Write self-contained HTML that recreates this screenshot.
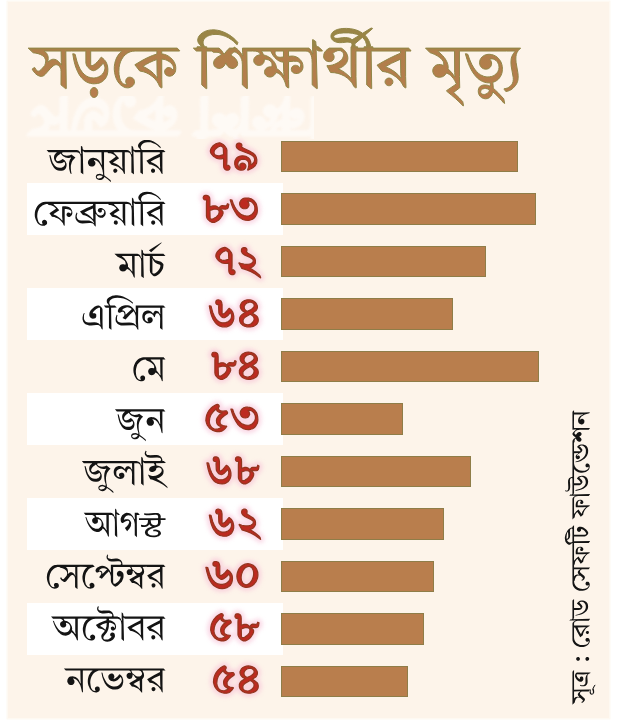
<!DOCTYPE html>
<html lang="bn"><head><meta charset="utf-8"><title>সড়কে শিক্ষার্থীর মৃত্যু</title>
<style>
html,body{margin:0;padding:0;background:#fff;font-family:"Liberation Sans",sans-serif;}
#c{position:relative;width:618px;height:728px;overflow:hidden;background:#fff;}
#bg{position:absolute;left:7.5px;top:2px;width:601.5px;height:715.5px;background:#fdf4ea;box-shadow:0 0 0 1.5px #fef9f2;}
.st{position:absolute;left:26.5px;width:256px;height:52px;background:#fff;}
.bar{position:absolute;left:281px;height:31.5px;background:#b97e4d;box-sizing:border-box;border:1px solid #8f7d48;}
svg{position:absolute;left:0;top:0;}
.t{fill:url(#tg);stroke:#918647;stroke-width:1.0;stroke-linejoin:round;}
.g{fill:#fff;stroke:#fff;stroke-width:3.2;stroke-linejoin:round;opacity:0.55;}
.h{fill:#f7bfd6;stroke:#f7bfd6;stroke-width:7;stroke-linejoin:round;opacity:0.6;}
.l{fill:#141414;}
.n{fill:#bd2a20;stroke:#93351f;stroke-width:1.2;stroke-linejoin:round;}
.s{fill:#141414;}
</style></head><body><div id="c"><div id="bg"></div>

<div class="st" style="top:183.1px"></div>
<div class="st" style="top:288.0px"></div>
<div class="st" style="top:393.0px"></div>
<div class="st" style="top:497.9px"></div>
<div class="st" style="top:602.8px"></div>
<div class="bar" style="top:140.8px;width:237.0px"></div>
<div class="bar" style="top:193.3px;width:254.6px"></div>
<div class="bar" style="top:245.8px;width:205.0px"></div>
<div class="bar" style="top:298.3px;width:172.0px"></div>
<div class="bar" style="top:350.7px;width:258.0px"></div>
<div class="bar" style="top:403.2px;width:122.0px"></div>
<div class="bar" style="top:455.7px;width:190.0px"></div>
<div class="bar" style="top:508.1px;width:162.7px"></div>
<div class="bar" style="top:560.6px;width:153.0px"></div>
<div class="bar" style="top:613.1px;width:143.0px"></div>
<div class="bar" style="top:665.6px;width:127.0px"></div>
<svg width="618" height="728" viewBox="0 0 618 728" role="img" aria-label="সড়কে শিক্ষার্থীর মৃত্যু">
<defs><g id="ti">
<path class="" vector-effect="non-scaling-stroke" transform="translate(30.40 85.49) scale(0.3102 0.3120)" d="M216.2-6.3l4.8-1.2l4.4-1.6l6.3-3.4l3.9-3.1l3.5-3.4l4.3-6l2.3-4.3l1.6-4.3l2.1-9.3l0.4-10l-1.2-9.7l-2.9-8.8l-2.1-4.1l-2.6-3.9l-3-3.5l-3.4-3.3l-6-4.4l-1 0.2l-5.8 7.9l-4.7 5.4l-7.4 7.1l-7.3 5.1l-3.2 1.2l-2.9-0.2l-1.1-1l-0.6-1.7l-0.2-2.4l0-41.4l99.6 0l0.2 0.6l-6.6 6.5l-5.6 7.3l-4.4 8l-3.4 8.6l-2.3 9l-1.3 9.3l-0.2 8.8l0.9 10l2 9.8l3.1 9.3l4.2 8.5l5.6 8.2l5.2 5.1l5.8 4.1l4.3 2.2l4.4 1.8l7.2 0.9l4.4-0.4l4.1-1.2l5.7-3l3.4-2.7l2.6-3.3l1.6-3.9l0.6-4.3l-0.2-2.4l-0.4-2.3l-1.6-3.8l-1.2-1.6l-3.1-2.6l-3.5-1.7l-3.8-0.9l-4.1 0.1l-2.1 0.5l-1.9 0.8l-3.1 2.6l-2.1 3.4l-1 3.7l0.2 5.4l1.3 3.3l2 3.3l-2.4 0.4l-2.1-0.1l-5.7-1.7l-3.4-2.3l-3-3.2l-3.7-6l-2.7-7.6l-2.2-11.4l-0.5-10.1l0.7-12.1l1.4-8.2l3.1-10l4.2-8.8l5.1-7.5l6.4-6.8l7.4-5.3l8.1-3.8l6.7-1.7l9.2-0.8l70.3 0l0 9.6l-14.4 4.7l-17 7.4l-16.9 8.8l-22.8 13.5l15.6 19.8l13.2 2.9l9 3.4l5.6 2.8l5.3 3.1l9.5 7l6.1 5.8l6.9 8.3l5.2 8.3l3.4 8.2l5.5 4.2l2.2 0l-0.7-26.8l-0.1-65.2l7.6 1l4.8 1.3l4.6 1.8l6.9 3.9l4.1 3l5 5.1l2.8 4.2l1.7 4.1l0.4 2l0 3.9l-1.9 5.3l-1.9-3.2l-2.5-2.4l-3.3-1.8l-3.7-1.1l-3.9 0.1l-3.8 1.1l-3.5 2.3l-1.4 1.6l-2 3.7l-0.5 2.3l-0.1 4.5l1.1 3.8l0.9 1.7l1.2 1.5l3.1 2.5l5.3 2.2l5.9 0.3l5.8-1.6l3.6-2.2l3.3-3l3.6-5.9l1.4-4.4l0.7-7.8l-0.5-7l-1.6-6.6l-2.7-6.1l-4.9-7.4l-6.3-6.5l-5.3-4.1l-3.7-2.4l-6.3-3l-4.6-1.6l-4.7-1.1l-4.7-0.6l0-9.2l57.6 0l0-1.6l-7.7-7.8l-480.5 0l16.2 15l8.3 1.1l7.6 1.7l7.2 2.5l6.6 3.5l3.7 2.9l3 3.2l2.9 5.7l0.9 4.4l0 4.3l-0.7 4.1l-2.2 7.4l-11.5 12.8l-3.9 3.3l-1.8 1.1l-3.4 0.8l-2.7-0.6l-1.5-0.9l-4-3.8l-3.3-6.1l-1.7 0l-6.9 4.8l4 6.6l4.5 5.7l3.3 3.2l4 3.2l6.8 3.5l2.2 0.7l4.6 0.5l3.9-0.5l1.7-0.6l2.9-1.7l4.5-3.9l16.9-19l8.3-7.8l4-2.5l3.8-1.2l3.5-0.1l3.5 1.2l3.3 2l2.7 2.7l3 5.2l1.2 4l0.6 7.2l-0.2 42.2l14.7 12l2.4 0l-1.5-120.4l17.2 0l0-0.4l0.4 0.4l47 0l0.1 38.4l1.7 6.4l2.3 4.1l3 3.8l5 4.9l6.3 4l4 1.2l1.9 0.2l3.5-0.5l6.1-2.8l6.6-4.7l7.4-6.9l7.2-8.5l2.9 3l1.1 1.7l1.5 4.1l0.7 4.1l0 4.2l-0.7 4.1l-1.5 4.1l-2.1 4.2l-3.9 5.1l-3.2 3.1l-3.7 2.7l-6 3.2l-6.5 2l-4.7 0.8l-5.1 0.2l-7.9-0.7l-7.5-2.2l-7.1-3.6l-6.6-5l-6.2-6.5l-5.7-8.1l-2.6-4.7l-4.9-10.7l-4.4-12.4l-5.6-21.9l-5.9-1.8l-1.8 0l3.6 20.8l3.4 13.6l2.6 8.2l5.8 14.3l6.4 11.8l7.2 9.4l7.7 7.3l8.2 5.3l6.9 2.9l4.8 1.3l7.5 1.3l5 0.2zM407.8-83.2l0.6 44.1l0.5 7.6l1 7.3l-0.8 0l-6.9-8.7l-4.6-5.1l-9.4-8.4l-11.7-7.7l-6.9-3.8l-6.8-3.1l-0.2-0.6l10.8-6.3l10.9-5.8l11.7-5.2zM99-110.4l0.5 36.5l1.1 8.7l-0.5 0.2l-5.7-7.9l-4.7-4.7l-6-4.3l-4.5-1.7l-4.6-0.6l-2.3 0.1l-4.4 1.1l-5.5 3.1l-6.2 5.1l-0.7-0.4l1.7-6.7l0.3-4.7l-0.3-4.4l-1-4.3l-1.7-4.3l-2.5-4l-3.4-3.4l-4.3-2.8l0-0.6zM213.8 33.8l2.3-4.2l1.1-4.6l0-5.2l-0.5-2.4l-1.6-4.3l-2.7-3.6l-3.3-2.2l-3.9-0.7l-3.8 0.7l-3.4 2.2l-1.5 1.7l-1.2 1.9l-1.7 4.3l-0.5 2.4l0 5.2l1.2 4.6l1 2.2l2.7 3.7l1.6 1.3l3.6 1.6l4 0l1.9-0.6l1.7-1z"><title>সড়কে</title></path>
<path class="" vector-effect="non-scaling-stroke" transform="translate(195.69 85.49) scale(0.3190 0.3120)" d="M550-110.4l92.2 0l0 6.8l-16.8 7.5l-18.1 9l-19 10.3l-19.7 11.6l15.8 19.8l10.4 1.9l6.5 1.8l6.2 2.3l5.8 2.7l5.5 3.1l9.8 6.8l6.4 5.7l7.2 8.1l5.5 8.2l3.7 8l5.6 4.2l2.2 0l-1.1-36.5l-0.1-81.3l17 0l0-1.6l-7.8-7.8l-111.7 0l0-4.2l-6.7 0l-2.3-10l-1.6-4.6l-2.8-6.5l-5.2-8.7l-6.3-7.6l23.8-20.8l0-0.8l-4.4-1.2l-26.6 16.8l-6.7-4.4l-7.3-3.7l-7.9-2.9l-8.3-2.2l-8.6-1.5l-11.8-0.9l-11.4 0.3l-7.6 0.9l-9.8 2.3l-8.1 3.7l-2.5 1.6l-4.1 3.6l-2.9 3.9l-1.1 2.1l-1.2 4.4l-0.1 2.4l0.1 2.2l1.1 4.2l0.9 1.9l2.6 3.5l3.6 3.1l3.9 2.3l6.8 2.3l7.9 1l9.1-0.2l14.4-1.7l6.3 0.3l5.4 1.5l1.7 1.1l1.2 1.4l0.8 1.8l0.2 2.1l-0.3 2.4l-1.5 4.1l-0.3 0.5l-0.9 0l0.2 75.3l0.4 15.5l1 10.4l-0.6 0.4l-11.1-11.1l-10.1-8.4l-8.6-5.7l-11.4-5.8l0-0.6l7.8-3.1l4.6-2.6l4.2-2.8l3.7-3.3l3.4-3.7l2.9-4.2l2.7-6.8l0.8-4.8l0-4.9l-0.8-4.9l-1.5-4.8l-2.3-4.8l-2.6-4l-3.1-3.6l-3.7-3.3l-6.5-4.2l-37.2 0l-7.1 4.6l-3.6 3.4l-2.9 3.7l-2.3 4l-1.5 4l-0.7 4l0 4.6l1.1 4.4l1 2.1l1.3 1.9l3.2 3.2l1.9 1.3l4.3 1.6l4.9 0.6l4.5-0.5l3.8-1.5l3-2.4l2.5-3.7l0.8-2.1l0.6-4.4l-0.4-3.7l-1.2-3.3l-3-3.6l2.8-3.1l3.1-2.5l3.4-2.1l6.3-2.3l4.2-0.4l4.4 0.5l1.9 0.6l3.2 1.8l2.6 3l1.7 3.8l0.4 2.1l0.1 4.4l-1 4.3l-2 4.2l-2.6 3.7l-3 3.3l-7.4 6l-4.3 2.6l-6.8 3.3l-7.4 2.5l-4.9 1.2l-7.3 0.8l-4.8-0.1l-0.8 0.8l11.6 21.6l12 0.7l11 2.1l10.1 3.5l11.1 5.5l9.7 7l8.4 8.2l4.3 5.6l2.7 4.3l3.7 7.9l5.4 4.2l2.2 0l-0.9-36.5l-0.1-81.3l34 0l-0.4 108.4l13.6 12l2.2 0zM500.8-124l-2.4-9.2l24-21l5.2 5.3l2.7 4l2.2 4.2l1.6 4.5l1.2 4.7l0.9 7.5l-8.2 0l0 4.2l-20.5 0l0-4.2zM482.7-151.3l-6.5-1.7l-7.2-0.6l-9.7 0.6l-13.6 1.9l-6.2 0l-3.9-1.1l-2.2-2.4l-0.8-2.2l0.3-1.4l0.8-1.4l1.3-1.3l4.3-2.7l2.9-1.3l4.2-1.4l5-1.1l12.4-1.2l15.9 0l12.8 1.5l12 3l8.3 3.5l-22.6 14.2l-3.5-2.8zM642.2-84.4l0.6 46.5l1.4 13.3l-0.6 0.4l-9.8-11l-9.7-8.6l-12.2-7.9l-7.2-3.8l-9.5-4.1l-0.2-0.6l18.4-10.7zM28.8-124l-3.9-5.7l-1.2-3.2l-0.6-3.1l0.4-6.1l1.6-4.3l1.2-2.1l4.6-5.2l5.9-4.1l7-3.1l9.1-2.2l10.7-0.7l9.6 0.7l9.7 2l9.9 3.4l10 4.8l9.9 6.7l6.5 5.4l9.8 9.8l1.4 0l1.8-7l-6.5-7.2l-7-6.7l-7.4-5.9l-7.9-5.4l-8-4.5l-8.2-3.8l-11-3.8l-8.2-1.9l-10.8-1.2l-8.2 0.2l-7.9 1l-7.2 1.9l-6.9 2.9l-6.3 3.8l-5.3 4.3l-4.5 5.4l-2.5 4.3l-1.5 4.5l-0.5 4.5l0.4 4.4l0.6 2l1.7 3.5l9.7 11.7l-14.6 0l0 4.2l-11.6 0l9.4 9.4l17.4 0l-0.4 108.4l13.6 12l2.2 0l-1.6-120.4l17.8 0l3.8 3.8l12.1 0.2l6.1 0.9l3.1 1.7l3 3.5l1.5 2.3l-11.7 6.4l-3.3 2.5l-3.3 3.1l-4 5.4l-1.8 5.5l-0.3 3.1l0.5 4.6l1.3 3.9l1.1 1.6l2.7 2.9l3.8 2.4l5.8 1.9l5.9-0.3l3.9-1.4l3.9-2.3l4.5-4.4l2.4-4.1l2-4.8l0.8 0l3.5 7.3l2.7 3.6l3 2.7l3.7 2.1l5.6 1.6l4 0l3.9-1l3.7-2.1l3.2-3l1.3-1.7l1.6-3.8l0.6-4.3l-1.1-5.7l-3.1-6.5l-3.8-4.6l-5.7-4.7l-7.7-4.9l2.2-3.6l2.3-2.9l2.7-2.4l2.8-1.3l2.4-0.1l3.2 1.1l3.5 2l3.4 2.6l4.8 5.2l3.8 6.2l2.8 6.9l1.6 6.8l0.7 10.7l-0.2 63.8l13.6 12l2.2 0l-1.6-120.4l18.2 0l0-0.4l0.4 0.4l9.4 0.3l6.7 1.9l3.3 2l1.4 1.5l2.4 3.8l1 2.3l-5.5 0.8l-6.7 2.7l-3.6 2.7l-1.7 1.9l-2.5 3.9l-1.2 4.3l-0.2 2.3l0.6 4.3l1.7 3.7l1.2 1.7l3.3 3l3.8 2l4 1l4.3 0l2-0.4l3.9-1.5l4.8-4l2.1-3.3l1.3-4l0.4-6.1l2.8-0.2l5.1 0.4l6.2 1.8l4.8 3.5l2.9 3.9l1.8 4l0.6 4.2l-0.3 3.2l-1.3 3.2l-6.2-0.1l-6.2 1.6l-1.7 0.9l-3.1 2.5l-1.5 1.7l-2.1 3.7l-1.1 4l0 4.4l1.2 4.1l2.4 3.6l3.5 3l3.8 2.1l4.1 1l4.3 0l4.3-1.2l2.1-1.1l3.7-2.6l2.9-3.3l3.2-6.3l4.7 1.3l4.4 2.2l4.1 2.9l3.5 3.5l5.7 7.7l3.5 6.8l2.6 6.5l2.1 6.7l1.6 7l5.8 4.4l2.4 0l-0.7-26.8l-0.1-56.8l15.3-1.5l9.1 0.2l4.5 0.9l3.5 1.5l3 2.6l1.2 1.7l1.4 4l0 4.4l-1.5 3.7l-1.3 1.5l-2.7-3.5l-3.3-2.3l-3.6-1.3l-3.6-0.5l-3.9 0.5l-3.5 1.6l-3.2 2.6l-1.1 1.7l-0.8 1.9l-0.7 4.5l0.5 4.2l0.7 1.8l2.2 3l3.5 2.6l2.1 0.9l4.3 1.2l6.4-0.3l5.9-2.1l3.6-2.4l3-3.3l2.2-3.7l1.9-6l0.3-4.7l-0.7-6.8l-1.2-4.2l-1.9-4.1l-2.6-4l-3.2-3.8l-5.8-4.9l-6.6-3.5l-7-1.9l-6.4-0.4l-10 1l0-17l54.9 0.1l4.6 0.9l3.7 1.8l1.7 1.2l2.7 3.1l3.1 5.8l1.9 7l1 6.9l0.6 12.6l0 69l13.8 12l2.2 0l-3.6-125.2l0.8-0.4l2.4 2.5l2.8 1.8l3.1 0.8l10.3 0.1l0-1.6l-7.8-7.8l-2.6 0l0-2.6l-1.6-1.6l-4-0.6l-1.3-0.8l-1-1.1l-1.1-2.7l-0.7-3.9l-0.5-7.7l-8.6-6.2l-1.4 0l0.1 33.1l1.1 12.9l-0.6 0.2l-3.2-7.6l-2.3-4.1l-3.9-4.9l-3-2.4l-208 0l0.4 14.6l1.2 10.2l-0.4 0.2l-7.3-10.8l-6.9-8.3l-3.3-3.1l-4.5-3.4l-5.7-2.9l0 3.5l-14 0l-6.8 6.3l-10.3 13.3l-0.6 0l-4-7.3l-4-5.6l-3-3.2l-4.7-3.5l-38.1 0l0-4.2zM275.2-91.4l-10.3 1l-3.8-0.2l-4.4-1.3l-3.7-2.6l-2.7-3.5l-1.3-3.8l-0.1-3.9l0.9-3.3l0.8-1.4l24.6 0zM275.2-74.8l0.6 29.7l1.4 14.5l-0.6 0.2l-5.5-8.2l-4.8-5.6l-7-6.4l-5.7-3.8l-1.1-7.1l-2.3-6.8l-3.5-6.3l-4.4-5.8l-6.9-6.7l-8-5.4l-8.4-3.8l-6.6-1.7l-2.5-6.2l-3.7-6.2l29 0l3.7 8.1l3.7 6.1l4.4 5.8l5.1 5.2l5.6 4.5l6.2 3.4l4.3 1.5zM616-4.4l1.6-3.4l0.5-1.8l0-4l-1.2-3.6l-0.9-1.6l-2.8-2.8l-3.3-1.6l-1.9-0.5l-4 0l-3.7 1.2l-3.1 2.2l-1.3 1.5l-1.7 3.3l-0.5 1.9l0 4l1.2 3.5l2.3 3.2l1.5 1.3l3.4 1.8l1.9 0.4l4 0l3.6-1.1l1.6-1.1z"><title>শিক্ষার্থীর</title></path>
<path class="" vector-effect="non-scaling-stroke" transform="translate(427.79 85.49) scale(0.3094 0.3120)" d="M7.6-104.8l5.7 1.6l9 3.7l8.4 4.5l6.1 4l5.4 4.4l4.6 4.7l3.6 5.7l1.1 3.9l0 3.8l-0.5 1.7l-1.6 2.2l-4.2-1.6l-4.1-0.9l-6.4-0.2l-6.5 1.5l-3.7 1.9l-3 2.8l-3.7 5.6l-1.7 6.2l0.4 6.4l2.4 6.2l4.2 5.3l3.4 2.5l6.4 2.1l7.7 0.3l7.1-1.7l4.1-2.3l5.2-4.5l4-5.4l8.5 5l3.7 2.9l4.9 4.6l4.7 5.6l3.9 5.8l5.8 11.5l-31.9 21.5l0.8 2.3l16 12.8l13 11.1l10.3 9.5l13.1 12.9l1.8 0l-2.6-13.3l-11.5-12.3l-18.1-17.3l19.8-14.8l-0.9-36.5l-0.1-81.3l151.4 0l0-0.4l0.4 0.4l28 0l0.2 0.8l-5.8 7.9l-4.2 7.6l-2.1 6.3l-1.1 7.5l-0.2 8.1l0.7 9.9l6.6 36.8l0.3 6.3l-0.8 7.2l-2.5 6.4l-2.5 3.9l-3.2 3.3l-5.5 4.1l-4.4 2.2l-5.1 1.6l-5.6 0.7l0 2.1l5.4 7l7.4-1.5l4.7-1.7l4.4-2.3l6.3-4.6l7.6-8.1l4.4-6.5l2.9-6.6l1.3-4.8l0.7-5.2l0.2-9.8l-1-9.3l-5.8-33.2l-0.7-10.2l0.2-7.4l1.4-8.2l2.6-6.3l3.8-5.7l7.4-7.7l-307.4 0zM86.4-110.4l0.4 68.6l1.2 13.8l-0.6 0.4l-5.3-7.4l-6.1-7.7l-10.4-10.7l0.3-6.4l-1.1-7l-1.5-4.8l-2.1-5.1l-4.3-7.9l-3.9-5.4l-4.8-5.6l-5.6-5.7l-10.2-8.7l0.2-0.4zM210-10l8-3l4.3-2.5l5.8-4.7l3.3-3.7l2.9-4.1l2.4-4.3l2.5-6.5l1.1-4.6l0.8-7.3l0-5.2l-0.4-5.1l-1.6-7.2l-2.5-6.8l-2.4-4.4l-3-4.2l-3.3-3.8l-3.7-3.4l-4.2-3l-6.8-3.4l-7.2-2.1l-7.8-0.7l-7.2 0.6l-4.4 1.2l-4.2 1.7l-6.2 4.2l-4.8 5.4l-2.2 4.3l-1.3 4.6l-0.5 5l0.8 6.4l2.2 5.2l2.7 3.3l3.2 2.6l3.7 1.8l5.7 1.4l6.3-0.4l4-1.3l1.8-1l3.2-2.7l1.6-1.9l2.3-4l0.7-2.2l0.5-2.3l0-4.1l-0.7-3.7l-1.4-3.6l-3.8-4.7l1.1-0.4l3.8-0.6l3.6 0.1l4.3 0.9l4 1.8l3.5 2.6l3.1 3.1l2.5 3.6l2.8 6.1l1 4.3l0.3 4.5l-0.8 6.7l-2.5 6.3l-2.6 3.9l-3.1 3.6l-5.8 4.6l-4.2 2.3l-4.4 1.7l-7.3 1.4l-5.3 0.3l-4.6-0.3l-4.7-0.7l-4.6-1.3l-9.3-4.2l-6.9-4.8l-6.7-6.4l-4.3-5.2l-4.3-6l-6.2-10.6l-3.9-8.3l-3.9-9.2l-5.4-15.6l-6-1.8l-2 0l5.6 19.1l4 11.4l4.3 10.4l4.5 9.3l4.8 8.2l5 7.3l5.1 6.5l5.4 5.5l5.5 4.6l5.6 3.7l5.8 2.9l5.8 2.2l5.9 1.5l5.9 0.7l7.3-0.1l0.5 6.2l-0.2 5l-6.2-2.5l-3.6-1l-5.8-0.8l-4.3 0l-4.6 0.7l-4.2 1.4l-5.6 3.5l-1.4 1.9l-2.1 4.4l-1.1 5.2l-0.1 2.9l0.1 2.9l1.2 5.4l0.9 2.5l2.8 4.5l1.6 1.9l3.7 3.1l6.5 3.1l7 1l6.7-1l6-3.1l3.5-3.2l1.6-1.9l3.7-7.1l1.7-5.8l7.7 6.5l10.3 9.9l9.7 10.4l8.5 9.9l2 0l-2.8-14.6l-19.1-20.4l-7.9-7.4l-7-6l-0.3-7.6zM192.4 25.1l-4.2 2.3l-4.6 1.2l-4.7 0l-3.8-1.1l-2.7-2.2l-1.4-3.1l0.1-4.3l0.8-2.1l1.4-1.9l3.7-2.6l6-1.7l3.7-0.1l5.2 1l8.1 3.4l-2.5 5.4l-1.5 2.2z"><title>মৃত্যু</title></path>
</g><linearGradient id="tg" gradientUnits="userSpaceOnUse" x1="0" y1="-128" x2="0" y2="60"><stop offset="0" stop-color="#9a8546"/><stop offset="0.1" stop-color="#b07f4b"/><stop offset="1" stop-color="#b87d4d"/></linearGradient>
<filter id="gb"><feGaussianBlur stdDeviation="1.1"/></filter><clipPath id="gc"><rect x="7" y="96" width="307" height="43"/></clipPath><filter id="bl" x="-20%" y="-5%" width="140%" height="110%"><feGaussianBlur stdDeviation="2"/></filter></defs>
<g clip-path="url(#gc)"><use href="#ti" class="g" filter="url(#gb)" transform="translate(0 183.0) scale(1 -1)"/></g>
<use href="#ti" class="t"/>
<path class="l"  transform="translate(48.26 172.86) scale(0.1835 0.1860)" d="M296-8l2 7l1 10l-1 1l-9-3l-7-2l-9 1l-6 2l-5 4l-2 5l-1 4l1 4l2 5l5 5l6 2l6 2l7-1l6-1l6-4l4-4l3-6l1-1l16 11l20 17l-2-10l-17-14l-17-12l-1-7l-1-39l0-78l1-1l17 0l6 5l10 1l9 2l10 5l6 5l5 6l0 1l-20 14l-17 12l14 17l13 3l13 4l11 5l9 7l8 7l6 6l4 7l3 7l5 3l1 0l-1-35l0-82l1 0l15 0l5 1l4 2l4 4l4 6l1 5l2 9l0 13l0 69l13 10l1 0l-3-123l2-2l4 4l4 2l28 0l0 1l0 108l13 10l1 0l-2-119l93 0l1 0l0 8l-35 17l-38 21l15 19l13 2l10 4l11 6l10 6l7 6l7 8l5 9l4 8l5 3l1 0l-1-35l0-82l1 0l16-1l-11-11l-118 0l-4-6l-2-7l1-6l3-7l4-5l9-6l9-3l10-2l9 0l10 1l9 3l11 4l6 3l10 7l7 6l10 9l1-6l-2-2l-11-11l-15-11l-11-6l-13-6l-11-2l-13-1l-14 1l-11 3l-11 7l-4 4l-3 4l-3 4l-1 4l-1 4l1 5l2 5l10 11l-1 2l-29 0l-4-1l-3-2l-1-3l-2-11l-8-6l0 32l2 13l-2 1l-1 0l-5-12l-6-6l-6-3l-8-2l-234 0l-4-2l-2-2l-1-6l-1-7l-8-6l0 32l2 13l-2 1l-1 0l-5-12l-4-5l-6-4l-8-2l-163 0l11 12l44 0l0 2l-7 6l-5 7l-2 6l-1 9l1 7l2 6l4 6l6 6l9 4l9 1l6 0l7-2l6-3l5-4l2 2l2 2l2 6l-1 6l-3 6l-4 4l-3 3l-4 1l-5 2l-9 0l-11-1l-7-3l-9-6l-7-10l-5-8l-4-10l-3-11l-5-18l-6-1l3 17l4 16l5 14l6 11l6 9l6 7l7 5l10 4l11 2l9 0l8-2l6-3l6-5l4-6l2-7l1-8l-1-9l-2-4l-3-6l-5-7l-4-3l-6-4l-11 7l-10 4l-8 1l-4-2l-1-1l-2-3l-1-2l0-4l1-4l3-6l7-8l8-6l7-5l5 7l5 5l6 4l10 5l7 2l7 1l6 0l8-2l2 1l0 1l-6 10l-3 9l-2 10l0 12l1 18l5 19l2 5l5 3l1 0l-3-17l-1-15l0-12l2-8l3-11l4-8l6-7l10-10l-22-17l-8 4l-8 2l-9 1l-7-1l-7-2l-6-3l-6-6l-1-3l0-1l8-3l72 0l8 1l6 3l2 3l4 6l2 7l1 10l0 79l13 10l1 0l-3-124l2-1l5 5l5 1l90 0l0 1l1 44l1 23l-1 1l-1-1l-8-16l-4-6l-5-5l-4-3l-6-4l-11-3l-7-1l-8 1l-4 1l-6 3l-5 5l-4 6l-1 4l-1 7l1 5l3 5l2 4l3 3l4 2l4 1l5 0l5 0l4-1l5-4l3-4l2-6l0-4l-1-5l-3-5l-4-3l0-2l1-1l5 1l9 3l5 4l6 5l4 6l4 6l5 9l4 9l3 11l2 6zM608-85l1 44l1 16l-1 2l-1-1l-10-11l-10-8l-14-9l-14-7l-1-1l0-1l5-3l14-8l29-13zM403-111l0 71l2 16l-2 2l-12-12l-10-8l-12-7l-15-6l0-2l4-3l28-18l-14-16l-16-15l0-2zM288 27l-7 2l-5 1l-4 0l-4-2l-2-2l-1-3l0-3l1-2l4-2l4-2l4-1l9 1l9 3l0 1l-2 4zM580-5l2-3l0-5l-1-4l-3-4l-3-1l-6-1l-3 1l-4 4l-2 3l0 5l1 3l3 5l3 1l6 1l3-1zM373-4l3-4l1-4l-1-3l-3-5l-4-2l-4-1l-3 1l-5 2l-2 5l-1 3l1 5l2 3l3 3l5 1l4-1z"><title>জানুয়ারি</title></path>
<path class="l"  transform="translate(32.90 224.70) scale(0.1817 0.1860)" d="M69-123l-11 1l-9 3l-11 6l-7 6l-8 9l-5 9l-5 12l-2 10l-1 14l1 12l4 12l5 11l5 9l7 7l9 5l9 2l8 1l7-1l5-3l3-2l3-3l2-4l0-7l-1-3l-4-5l-4-3l-6-1l-5 1l-4 3l-3 3l-1 4l1 5l1 3l2 3l0 1l-3 1l-5-1l-4-1l-4-2l-3-4l-4-5l-4-12l-3-14l0-9l1-10l2-9l3-8l3-7l6-8l5-5l8-6l6-3l7-3l9-2l7 0l6 5l12 1l11 4l7 5l10 9l0 1l-20 14l-16 11l14 18l13 2l9 3l11 5l10 7l8 7l5 6l5 7l3 9l5 3l1 0l0-28l0-61l2-1l7 0l14 2l8 4l4 3l1 2l1 5l-1 3l-1 2l-3 3l-1 0l-5-4l-5-1l-6 1l-2 2l-2 3l-1 3l0 3l2 6l4 3l5 2l6 0l4-2l5-4l4-5l2-7l0-8l-1-6l-3-7l-4-6l-4-4l-5-3l-6-3l-7-1l-8-1l-11 0l-7 1l0 54l2 20l-2 1l-12-12l-9-7l-12-7l-14-6l0-2l4-3l27-18l-14-16l-17-15l0-1l0-1l217 0l0 1l0 6l-17 7l-18 7l-37 19l16 19l13 3l10 4l9 5l11 7l6 5l5 6l6 9l1 3l0 1l-2 0l-6-5l-8-5l-10-3l-12-1l-32 1l-10-2l-6-3l-3-3l-3-3l-2-7l-1-5l1-7l3-10l-3-3l-1 0l-2 3l-4 10l-1 9l0 7l2 7l5 8l7 6l6 4l9 3l10 1l37-2l8 0l7 1l6 2l3 3l3 3l3 7l5 3l1 0l-1-33l0-35l2 0l6 9l8 7l9 4l8 1l6-1l4-2l6-5l5-7l1-6l1-4l-1-5l-1-5l-2-4l-4-5l-5-4l-6-3l-6-2l-6 0l-4 1l-3 2l-4 4l-2 6l1 3l2 4l3 2l3 2l4 1l5-1l3-3l2-3l0-3l-2-5l0-1l1 0l5 0l4 2l4 5l1 6l-2 6l-2 4l-3 4l-4 2l-5 2l-6 0l-7-1l-5-2l-3-2l-3-4l-4-5l-3-11l-1-9l0-27l1 0l66 0l1-1l6 6l7 0l7 2l11 4l8 5l8 8l-1 1l-20 14l-17 12l14 17l13 3l10 3l9 3l10 6l9 7l7 8l5 7l4 9l5 3l1 0l-1-35l0-82l1 0l12 0l8 1l5 3l5 5l2 6l2 10l1 10l0 74l13 10l1 0l-3-123l0-1l1-1l5 4l4 2l27 0l1 0l0 109l13 10l1 0l-2-119l94 0l0 7l0 1l-35 17l-38 21l15 19l13 2l10 4l11 6l10 6l7 6l7 8l5 9l4 8l5 3l1 0l-1-35l0-82l1 0l16 0l-11-12l-118 0l-4-6l-2-7l1-6l3-7l4-5l9-6l9-3l10-2l9 0l10 1l9 3l11 4l6 3l10 7l7 6l10 9l1-6l-2-2l-11-11l-15-11l-11-6l-13-6l-11-2l-13-1l-14 1l-11 3l-11 7l-4 4l-3 4l-3 4l-1 4l-1 4l1 5l2 5l10 11l-1 2l-29 0l-4-1l-3-2l-1-3l-2-11l-8-6l0 32l2 13l-2 1l-1 0l-5-12l-6-6l-6-3l-11-2zM699-85l1 44l1 16l-1 2l-1-1l-10-11l-10-8l-14-9l-14-7l-1-1l0-1l5-3l14-8l29-13zM494-111l0 71l2 16l-2 2l-12-12l-10-8l-12-7l-15-6l0-2l4-3l28-18l-14-16l-16-15l0-2zM331-86l1 42l0 14l-1 1l-10-11l-9-8l-14-10l-14-6l0-1l0-1l18-9l28-12zM671-5l2-3l0-5l-1-4l-3-4l-3-1l-6-1l-3 1l-4 4l-2 3l0 5l1 3l3 5l3 1l6 1l3-1zM466-5l1-3l0-5l-1-4l-3-4l-3-1l-5-1l-4 1l-4 4l-1 3l-1 5l1 3l4 5l3 1l5 1l4-1z"><title>ফেব্রুয়ারি</title></path>
<path class="l"  transform="translate(116.08 276.54) scale(0.1835 0.1860)" d="M149-116l1 0l4 3l4 2l25 0l1 0l0 80l2 9l6 8l4 5l4 4l6 3l3 1l3 0l6-2l11-6l7-6l6-7l6-8l4-6l4-9l1-7l1-8l0-6l-4-5l-9-8l-24-7l-7-2l-3-3l-6-5l-2-3l-3-6l-2-6l1 0l70 0l-11-12l-104 0l-4-2l-2-2l-1-6l-1-7l-8-6l0 32l2 13l-2 1l-1 0l-5-12l-4-5l-5-3l-7-2l-9-1l-116 0l17 17l6 2l9 4l8 4l8 6l9 7l3 7l1 4l0 4l-1 3l-1 1l-9-2l-8 0l-4 1l-4 2l-4 4l-3 6l-1 4l0 4l2 6l3 5l5 4l4 2l7 1l5-1l4-1l4-2l5-5l4-5l1 0l11 6l8 8l9 12l4 9l3 9l5 3l1 0l-1-38l0-79l1 0l15 0l7 1l3 3l3 3l4 6l2 7l1 10l0 79l13 10l1 0l-3-123zM202-89l5 8l7 7l5 3l4 2l16 5l2 2l0 4l0 6l-3 7l-3 6l-5 6l-6 7l-7 5l-6 4l-6 1l-3-1l-2-1l-2-3l0-4l0-70l2 0zM87-110l1 66l1 16l-2 1l-12-15l-10-11l0-7l-1-7l-4-9l-4-8l-6-8l-5-6l-13-11l0-2l1 0l54 0zM246-183l-67 42l12 10l58-51z"><title>মার্চ</title></path>
<path class="l"  transform="translate(81.28 328.38) scale(0.1785 0.1860)" d="M231-56l17 8l28-29l17-15l1 0l6 11l4 11l1 6l0 31l1 8l3 8l0 1l-2 0l-6-6l-8-5l-10-3l-14-1l-41 1l-11-1l-7-3l-3-2l-3-3l-4-7l0-5l0-7l1-6l2-7l-3-2l-1 0l-3 5l-3 10l-1 9l1 10l4 8l7 7l8 5l10 3l7 1l8 0l46-2l9 0l6 2l5 2l5 5l3 6l3 7l5 3l1 0l-2-43l1-76l122 0l1 1l0 22l1 11l-2 0l-4-6l-4-6l-5-3l-4-2l-6-1l-6 2l-5 5l-4 8l-1 0l-9-9l-8-5l-8-2l-9 0l-7 2l-4 2l-6 4l-4 5l-2 4l-2 6l-1 6l0 7l2 10l3 6l5 6l5 4l6 4l7 2l8 1l7-1l8-3l3-3l2-3l2-4l0-4l0-4l-2-4l-4-5l-5-2l-6 0l-4 1l-6 3l-2 6l0 5l1 3l3 4l0 2l-1 0l-2 0l-7-2l-3-3l-3-3l-2-4l-1-6l0-6l0-5l2-5l3-3l6-5l6-2l7-1l7 0l6 3l6 4l5 5l3 7l5 2l3-12l3-6l3-2l2-1l4 0l4 1l3 3l4 5l2 4l1 6l1 8l-1 52l13 10l1 0l-1-119l18-1l-12-11l-155 0l0 22l1 13l0 1l-1 0l-1 0l-6-11l-7-9l-7-7l-7-5l-8-4l-10-2l-12 0l-9 2l-12 4l-10 7l-4 3l-4 6l-2 4l-1 4l0 4l1 3l3 3l3 1l5 0l8-4l5-1l5 0l2 1l2 3l2 4l1 4l0 4l-1 4l-3 5zM248-74l-1-10l-3-6l-3-3l-3-2l-4-1l-4-1l-1-1l0-1l5-5l4-3l7-3l7-2l6-1l7 1l6 1l6 3l5 4l0 1l-32 29zM199-112l-11-11l-25 0l-5-8l-1-5l0-4l2-7l3-4l3-3l4-3l7-3l12-4l15-1l17 1l17 4l18 6l17 10l16 12l2-6l-8-7l-9-6l-9-6l-10-5l-20-9l-14-4l-9-2l-10-1l-9 0l-8 1l-11 2l-7 3l-7 3l-6 4l-5 5l-3 4l-2 4l0 4l0 6l2 5l10 12l0 1l-1 1l-28 0l11 12l17 0l1 0l0 109l13 10l1 0l-2-119l1 0zM120 6l-1-42l0-65l-1-5l-2-4l-6-6l-8-5l-4-2l-4 0l-8 2l-12 5l-11 9l-10 10l-6 10l-1 4l-1 6l0 7l2 6l4 5l3 3l6 3l5 1l7-1l6-2l4-4l2-5l0-6l0-4l-4-4l-3-3l-4-1l-8 0l-1-1l1-2l2-3l4-5l5-5l8-6l7-4l6-3l4-1l2 1l2 3l0 4l0 54l1 18l1 12l-1 1l-1 0l-4-4l-5-4l-4-2l-7-2l-12-2l-23 2l-10-1l-8-1l-7-3l-3-3l-3-4l-2-4l-2-4l0-9l0-6l1-7l3-8l-3-2l-1 0l-4 7l-2 8l-2 9l0 10l2 7l2 6l4 6l6 6l6 3l5 2l12 3l12 0l27-2l12 0l6 3l5 4l4 5l4 9l5 3z"><title>এপ্রিল</title></path>
<path class="l"  transform="translate(131.69 380.22) scale(0.1716 0.1860)" d="M69-123l-9 1l-7 2l-9 3l-8 5l-7 7l-6 7l-5 9l-4 9l-3 10l-1 9l0 10l1 10l3 10l4 9l4 8l5 7l5 5l7 4l6 2l8 2l7-1l7-1l5-3l4-4l2-6l0-5l-1-3l-2-4l-3-2l-3-2l-4 0l-4 0l-4 1l-3 2l-3 3l-1 4l0 3l2 5l2 3l0 1l-3 1l-5-1l-4-1l-4-3l-6-6l-2-4l-3-7l-2-12l-1-14l2-13l3-11l4-10l8-9l9-8l8-5l12-4l11-1l6 5l6 2l9 4l14 8l6 5l5 4l2 4l2 5l0 6l-1 3l-1 1l-9-2l-8 0l-4 1l-4 2l-4 4l-3 6l-1 4l0 4l2 6l3 5l5 4l4 2l7 1l5-1l4-1l4-2l5-5l4-5l1 0l11 6l8 8l9 12l4 9l3 9l5 3l1 0l-1-38l0-79l1 0l16-1l-11-11zM166-110l1 66l1 16l-2 1l-12-15l-10-11l0-7l-1-7l-4-9l-4-8l-6-8l-5-6l-13-11l0-2l1 0l54 0z"><title>মে</title></path>
<path class="l"  transform="translate(116.53 432.06) scale(0.1798 0.1860)" d="M240-111l1 1l1 41l1 26l-1 1l-1-1l-8-16l-4-6l-5-5l-4-3l-6-4l-7-2l-6-1l-7-1l-8 2l-4 1l-6 3l-5 6l-2 4l-2 7l1 6l1 5l2 3l2 4l3 3l4 2l4 1l5 0l5 0l4-1l5-4l3-4l2-6l0-4l-1-5l-3-5l-4-3l0-2l1-1l7 2l9 4l9 7l4 6l4 6l5 9l4 11l4 12l3 14l5 4l1 0l-1-38l0-79l1 0l16 0l-11-12l-270 0l11 12l44 0l0 2l-7 6l-5 7l-2 6l-1 9l1 7l2 6l4 6l6 6l9 4l9 1l6 0l7-2l6-3l5-4l2 2l2 2l2 6l-1 6l-3 6l-4 4l-3 3l-4 1l-5 2l-9 0l-11-1l-7-3l-9-6l-7-10l-5-8l-4-10l-3-11l-5-18l-6-1l3 17l4 16l5 14l6 11l6 9l6 7l7 5l10 4l11 2l9 0l8-2l6-3l6-5l4-6l2-7l1-8l-1-9l-2-4l-3-6l-5-7l-4-3l-6-4l-11 7l-10 4l-8 1l-4-2l-1-1l-2-3l-1-2l0-4l1-4l3-6l7-8l8-6l7-5l5 7l5 5l6 4l10 5l7 2l7 1l6 0l8-2l2 1l0 1l-5 8l-3 9l-2 9l-1 10l1 18l2 12l5 16l0 7l-1 1l-9-3l-7-2l-7 1l-6 1l-5 4l-4 4l-1 6l1 4l2 5l3 3l4 3l6 2l9 1l8-2l6-4l4-4l3-6l1-1l16 11l20 17l-2-10l-17-14l-17-11l-1-12l-2-7l-1-7l-1-13l0-11l1-8l2-9l3-8l5-7l6-8l8-7l-22-17l-8 4l-8 2l-9 1l-7-1l-7-2l-4-2l-6-5l-3-4l0-1l8-4zM114 24l-4 3l-5 2l-4 1l-5 0l-4-1l-3-2l-1-1l-1-3l1-4l4-3l6-2l6-1l7 2l7 2l0 1l-1 2z"><title>জুন</title></path>
<path class="l"  transform="translate(83.44 483.90) scale(0.1835 0.1860)" d="M384-110l4 6l1 5l-16 4l-6 3l-5 4l-3 5l-1 5l0 4l3 5l5 4l6 1l7 0l5-2l4-2l5-4l3-6l2-8l5-1l6-1l4 0l4 1l6 4l3 5l1 5l-1 4l-1 4l-3 4l-7 7l-11 6l-11 4l-11 2l-8 0l-9-3l-14-5l13 25l13 3l13 5l22 9l22 13l25 18l-2-8l-14-13l-17-13l-27-17l1-1l9-3l8-4l7-5l5-4l3-4l3-6l1-5l1-9l-1-5l-1-4l-3-4l-2-4l-7-6l-7-3l-9-3l-9-1l-3-12l1 0l54-1l-12-11l-7 0l-2-11l-3-6l-4-6l-6-4l-8-4l-9-2l-9 0l-27 2l-8-1l-7-1l-3-2l-3-4l-1-6l2-4l1-3l-4-3l-1 0l-1 1l-2 6l-2 5l0 4l1 4l2 4l3 3l5 5l4 3l5 1l9 2l11 0l27-2l11 1l6 2l4 5l1 3l-2 6l-2 2l-88 0l-4-2l-2-2l-1-6l-1-7l-8-6l0 32l2 13l-2 1l-1 0l-5-12l-6-6l-6-3l-8-2l-298 0l11 12l44 0l0 2l-7 6l-5 7l-2 6l-1 9l1 7l2 6l4 6l6 6l9 4l9 1l6 0l7-2l6-3l5-4l2 2l2 2l2 6l-1 6l-3 6l-4 4l-3 3l-4 1l-5 2l-9 0l-11-1l-7-3l-9-6l-7-10l-5-8l-4-10l-3-11l-5-18l-6-1l3 17l4 16l5 14l6 11l6 9l6 7l7 5l10 4l11 2l9 0l8-2l6-3l6-5l4-6l2-7l1-8l-1-9l-2-4l-3-6l-5-7l-4-3l-6-4l-11 7l-10 4l-8 1l-4-2l-1-1l-2-3l-1-2l0-4l1-4l3-6l7-8l8-6l7-5l5 7l5 5l6 4l10 5l7 2l7 1l6 0l8-2l2 1l0 1l-5 8l-3 8l-2 10l-1 10l1 18l2 12l5 16l0 7l-1 1l-9-3l-7-2l-7 1l-6 1l-5 4l-4 4l-1 6l1 4l2 5l3 3l4 3l6 2l9 1l8-2l6-4l4-4l3-6l1-1l16 11l20 17l-2-10l-17-14l-17-11l-1-12l-2-7l-1-10l-1-10l0-11l2-11l2-8l4-8l3-5l6-8l8-7l-22-17l-8 4l-8 2l-9 1l-7-1l-7-2l-6-3l-6-6l-1-3l0-1l8-3l182 0l1 1l0 22l1 11l-2 0l-4-6l-4-6l-5-3l-4-3l-6 0l-6 2l-5 5l-4 8l-1 0l-9-9l-8-5l-8-2l-9 0l-7 2l-4 2l-6 4l-4 5l-2 4l-2 6l-1 6l0 7l2 10l3 6l5 6l5 4l6 4l7 2l8 1l7-1l8-3l3-3l2-3l2-4l0-4l0-4l-2-4l-4-5l-5-2l-6 0l-4 1l-6 3l-2 4l0 2l0 5l1 3l3 4l0 2l-1 0l-2 0l-7-2l-3-3l-3-3l-2-4l-1-6l0-6l0-5l2-5l3-3l6-5l6-2l7-1l7 0l6 3l6 4l5 5l3 7l5 2l3-12l3-6l3-2l2-1l4 0l4 1l3 3l4 5l2 4l1 6l1 8l-1 52l13 10l1 0l-1-119l14 0l5 0l5 1l5 4l4 6l2 7l1 7l1 12l0 72l13 10l1 0l-3-124l2-1l4 4l4 2l48 0zM112 26l-4 2l-5 1l-5 1l-4 0l-4-2l-2-2l-1-3l0-3l3-3l6-3l6-1l7 1l6 2l3 2l-2 4z"><title>জুলাই</title></path>
<path class="l"  transform="translate(85.20 535.74) scale(0.1697 0.1860)" d="M247-24l13-13l7-11l2-5l1-7l1-7l-1-5l-3-6l-3-4l-3-3l-4-2l-5-1l-7-1l-7 1l-8 2l-1-1l0-2l1-4l3-5l4-4l3-3l4-2l5-2l5-1l7 1l8 2l8 6l6 8l4 8l3 11l2 11l0 61l13 10l-1-119l1 0l17 0l-11-12l-19 0l0 20l1 12l0 1l-1 1l-1-1l-4-6l-6-9l-6-7l-9-7l-6-2l-5-1l-12-1l-4 1l-7 2l-6 4l-4 3l-4 3l-4 6l-4 9l-1 4l0 8l2 8l1 2l4 3l3 2l3-1l14-8l12-4l4 0l2 0l4 3l1 2l0 2l0 4l-5 10l-8 9l-12 10zM76-20l8-2l8-5l6-4l5-8l1 0l8 6l8 9l8 12l3 7l3 8l6 3l-1-35l0-82l1 0l17 0l6 3l5 4l3 6l3 10l1 14l0 72l13 10l1 0l-4-123l2-2l4 4l3 1l11 0l-12-11l-4-1l-3-2l-1-5l-1-9l-8-6l0 35l1 10l-1 1l-1 0l-6-12l-3-5l-7-4l-7-2l-161 0l11 12l40 0l8 3l5 4l3 3l0 1l-7 3l-5 4l-4 5l-1 4l0 5l2 6l5 5l5 3l4 1l6 0l6-3l3-2l2-3l1-5l0-5l-2-6l0-1l6 1l5 1l3 2l4 3l3 4l2 4l1 9l-1 8l-4 9l-4 3l-4 4l-6 3l-8 1l-10-1l-6-2l-8-3l-6-4l-6-6l-8-9l-6-9l-6-11l-7-17l-6-2l7 21l6 14l9 15l10 12l10 9l10 6l10 3l5 1zM125-110l0 63l2 17l-2 1l-8-11l-10-10l1-9l-2-10l-4-8l-5-8l-6-6l-8-5l-6-3l-10-1l-6-11l1 0l62 0z"><title>আগ</title></path>
<path class="l" transform="translate(139.59 537.05) scale(0.1981 0.1465)" d="M27-29l2 8l2 5l4 5l4 3l5 3l5 3l6 2l15 1l7 0l8-2l6-2l6-3l4-4l4-5l2-4l1-5l-1-7l-1-4l-4-6l-3-3l-6-3l-4-2l-9-2l-11 1l0 11l11 0l5 1l6 4l3 3l0 7l-1 4l-3 4l-6 3l-8 2l-11 0l-10-2l-3-1l-6-5l-2-3l-2-3l-1-8l0-4l3-6l3-4l5-5l7-5l31-14l5-2l5-4l3-6l1-3l2-7l1-8l-1-15l25 0l0-12l-25 0l1-12l-1-5l-1-5l-3-6l-3-3l-3-3l-7-2l-8-1l-8 1l-28 4l-12 0l-10-3l0 11l10 3l8 1l9 0l29-5l4 0l5 2l3 3l2 4l1 8l-1 6l-1 2l-95 0l0 12l45 0l0 1l0 9l-1 8l-2 7l-2 4l-6 4l-7 2l-9-1l-8-2l0 12l6 3l7 1l7-1l5-1l5-2l4-3l4-6l4-6l4 7l2 3l8 6l-1 1l-8 3l-8 4l-7 5l-4 4l-3 4l-3 7l-2 8zM76-80l-7-2l-3-2l-5-5l-2-4l-2-10l-1-12l36-1l1 7l0 11l-1 7l-1 3l-4 4l-5 3z"><title>স্ট</title></path>
<path class="l"  transform="translate(45.08 587.58) scale(0.1763 0.1860)" d="M306-56l16 8l25-26l14-13l1 0l5 8l4 11l2 7l0 25l1 4l2 7l6 8l7 7l7 4l3 1l3-1l9-4l8-6l8-8l8-8l5-10l4-9l1-9l0-9l-1-5l-2-6l-5-4l-3-3l-6-2l-4-1l-5 1l-6 3l-3 3l-2 5l-1 4l1 5l3 5l4 4l6 1l7-1l1 1l-2 7l-3 6l-3 6l-6 7l-5 5l-6 4l-6 3l-5 1l-3-1l-3-4l-1-8l0-78l1 0l83 0l9 1l4 1l1 2l3 4l1 3l-1 1l-7 0l-5 1l-6 2l-3 4l-3 5l0 6l2 6l2 3l5 4l4 1l6 0l6-1l5-4l2-4l2-7l0-6l2-1l4 4l10 13l7 6l-1 1l-22 12l-19 11l15 18l11 1l7 2l12 6l6 3l7 6l5 5l4 6l5 4l1 0l0-22l0-51l4-4l4-5l2-6l1-7l-2-10l-4-8l-3-5l0-1l24-1l0 1l74 0l1 1l0 7l-35 17l-38 21l15 19l13 2l10 4l11 6l10 6l7 6l7 8l6 9l3 8l5 3l1 0l-1-35l0-82l1 0l16-1l-11-11l-106 0l-1 0l-1 0l-124 0l-1-1l-1-10l-3-6l-4-6l-5-4l-8-4l-9-2l-9 0l-24 2l-7-1l-6-1l-4-2l-3-3l0-7l0-3l2-4l-3-3l-1 0l-3 5l-2 3l0 6l0 4l1 4l3 4l6 6l4 3l5 1l9 2l12 0l22-2l10 1l6 2l3 4l2 4l-1 4l-3 4l-55 0l0 25l1 14l0 1l-1 0l-1 0l-7-12l-7-8l-6-5l-10-6l-8-2l-11-1l-12 2l-8 4l-6 3l-6 6l-4 6l-1 6l2 5l2 3l3 1l3 0l4 0l6-4l4-1l5 2l3 2l1 5l-1 6l-5 8zM652-85l1 44l1 16l-1 2l-1-1l-10-10l-10-9l-14-9l-14-7l-1-1l0-1l5-3l14-8l29-13zM539-110l5 2l4 6l2 5l0 6l-2 4l-5 5l-7 3l-5 0l-7 0l-5-2l-7-4l-10-8l-6-4l-3-7l-3-6l1-1l40 0zM532-19l-11-9l-10-6l-8-4l-1-1l2-2l11-6l21-11l1 1l1 29l1 14l-2 1zM325-76l-1-7l-3-5l-5-3l-3 0l-5 0l-1-1l0-1l5-5l8-4l7-2l4 0l4 0l6 1l10 5l0 1l-24 22l-1 0zM623-4l3-4l0-4l0-3l-3-5l-4-2l-4-1l-4 1l-4 2l-3 5l0 3l1 5l2 3l3 3l5 1l4-1zM62 5l5-1l5-3l3-3l2-3l1-4l0-5l-1-3l-2-4l-3-2l-5-2l-6 0l-4 1l-5 4l-2 5l1 5l1 3l2 3l0 1l-3 1l-7-1l-4-2l-4-3l-3-3l-3-6l-4-12l-2-12l0-12l2-10l2-8l3-8l5-9l5-5l7-7l8-5l7-3l7-2l11-1l6 5l12 2l12 5l5 4l5 5l2 3l2 7l0 5l-1 6l-2 6l-11 12l-5 5l-4 1l-3-1l-3-2l-2-3l-3-5l-6 4l4 7l4 6l6 4l6 4l4 1l3 0l3-1l3-2l4-4l19-22l4-4l4-3l4-1l4 0l3 1l3 2l3 3l2 4l2 8l0 47l13 10l1 0l-1-119l1 0l18-1l35 1l1 2l-8 6l-7 10l-3 5l-4 9l-2 9l-2 9l0 9l1 10l2 9l4 9l4 9l6 8l8 6l6 4l7 2l8 1l4-1l7-1l5-3l3-3l2-3l1-4l0-5l-1-3l-4-5l-4-3l-6-1l-5 1l-4 3l-3 3l-1 4l1 5l1 3l2 3l0 1l-3 1l-7-1l-4-2l-4-3l-3-4l-4-6l-3-12l-2-15l1-10l1-8l3-11l4-9l6-8l6-7l8-6l9-4l10-3l8-1l-11-11l-202 0l-7 1l-7 1l-11 4l-9 7l-7 6l-6 8l-5 9l-4 10l-2 10l-1 11l1 13l3 12l4 9l4 8l7 8l8 7l6 3l10 2zM171-110l0 36l1 9l-1 1l-1 0l-4-7l-5-6l-6-4l-4-2l-4 0l-6 1l-3 2l-7 6l-1 0l-1-1l1-7l0-5l-1-8l-3-8l-3-3l-4-3l-1-2l1 0l51 0z"><title>সেপ্টেম্বর</title></path>
<path class="l"  transform="translate(52.67 639.42) scale(0.1806 0.1860)" d="M146-123l-1 0l-1 0l-153 0l11 12l40 0l8 3l5 4l3 3l0 1l-7 3l-5 4l-4 5l-1 4l0 5l2 6l3 3l5 4l4 2l6 0l6-2l5-3l2-3l1-5l0-5l-2-6l1-1l5 1l7 2l5 4l3 4l3 9l0 8l-3 9l-4 6l-4 3l-4 3l-6 2l-9 1l-9-1l-7-3l-7-3l-6-5l-6-6l-8-10l-6-10l-6-11l-5-13l-6-2l7 21l9 18l9 14l4 7l8 7l7 6l11 5l7 2l10 1l9-2l8-3l8-6l5-8l1 0l8 6l8 9l8 12l3 7l3 8l5 3l1 0l-1-40l0-76l0-1l18-1l35 1l1 0l0 2l-8 6l-7 10l-3 5l-4 9l-2 9l-2 9l0 9l1 10l2 9l3 9l5 9l6 8l8 6l6 4l7 2l8 1l4 0l7-2l6-4l3-4l2-3l0-4l0-5l-3-5l-3-2l-3-2l-6-1l-6 2l-3 2l-3 5l-1 4l1 3l3 7l0 1l-3 0l-7-1l-4-2l-6-5l-4-6l-3-8l-2-9l-1-10l1-12l1-8l3-11l3-7l5-8l7-7l7-6l9-5l9-3l12-1l60 0l0 1l0 7l-13 4l-14 5l-13 6l-19 11l14 17l12 2l8 2l10 5l6 4l0 1l-5 6l-9 10l-4 5l-2 6l1 8l2 7l3 3l4 5l4 3l6 3l4 1l10 1l8-1l7-1l6-3l7-4l5-4l5-6l3-6l1-6l-1-7l-2-6l-3-2l-3-2l-4-1l-4 0l-5 2l-3 3l-1 3l-1 3l1 5l2 2l5 3l0 1l-2 4l-6 5l-5 3l-6 3l-5 1l-7 0l-4 0l-4-1l-4-2l-2-3l0-6l2-6l17-20l3-6l4-9l2-7l2-10l1-21l1 0l8 1l11 4l8 5l3 3l1 4l1 6l-1 3l-1 2l-1 0l-3-5l-3-1l-3-1l-5 1l-5 3l-1 2l0 6l2 4l2 3l4 2l4 0l4 0l4-2l3-3l3-2l2-6l1-4l0-6l-2-7l-1-4l-4-6l-7-6l-6-4l-9-4l-10-1l0-7l1-1l48 0l7 2l3 2l3 3l3 4l2 7l2 14l0 77l13 10l1 0l-3-123l0-1l2 0l4 3l4 2l85 0l0 7l0 1l-35 17l-38 21l15 19l13 2l10 4l11 6l10 6l7 6l7 8l6 9l3 8l5 3l1 0l-1-38l0-79l92 0l1 1l0 7l-35 17l-38 21l15 19l13 2l10 4l11 6l10 6l7 6l7 8l6 9l3 8l5 3l1 0l-1-35l0-82l1 0l16 0l-11-12l-216 0l-4-2l-2-2l-1-6l-1-7l-8-6l0 32l2 13l-1 1l-1 0l-7-14l-5-4l-3-2l-3-1l-6-2l-20 0l-2-11l-4-8l-4-5l-8-6l-6-2l-7-1l-9 0l-16 1l-11 1l-7-1l-6-2l-3-3l-2-4l0-5l3-6l-4-3l-1 0l-1 1l-3 6l-1 5l0 4l1 4l2 4l2 3l5 5l4 3l5 1l9 2l10 0l27-2l10 2l6 3l3 4l0 4l-3 6l-1 0zM594-85l1 44l1 16l-1 2l-1-1l-10-11l-10-8l-14-9l-14-7l-1-1l0-1l5-3l14-8l29-13zM487-85l1 44l1 16l-1 2l-1-1l-10-11l-10-8l-14-9l-14-7l-1-1l0-1l5-3l14-8l29-13zM299-87l-1 17l-2 6l-2 7l-2 5l-13-11l-9-5l-7-4l-1-1l1-1l13-7l12-4l10-3zM125-110l0 66l2 14l-2 1l-8-11l-10-10l1-9l-2-10l-4-8l-5-8l-6-6l-8-5l-6-3l-10-1l-6-10l0-1l1 0l63 0zM565-4l3-4l0-4l0-3l-3-5l-4-2l-4-1l-4 1l-4 2l-3 5l0 3l1 5l2 3l3 3l5 1l4-1z"><title>অক্টোবর</title></path>
<path class="l"  transform="translate(65.47 691.26) scale(0.1771 0.1860)" d="M-9-123l11 12l82 0l1 45l1 23l-1 1l-1-1l-8-16l-4-6l-5-5l-4-3l-6-4l-11-3l-7-1l-8 1l-4 1l-6 3l-5 5l-4 6l-1 4l-1 7l1 5l3 5l2 4l3 3l4 2l4 1l5 0l5 0l4-1l5-4l3-4l2-6l0-4l-1-5l-3-5l-4-3l0-2l1-1l7 2l9 4l5 4l5 5l8 12l5 9l4 12l6 23l5 4l1 0l-1-45l0-71l1-1l52 0l1 0l0 2l-8 6l-5 8l-4 5l-4 8l-4 15l-1 9l0 8l1 10l3 10l3 6l4 9l4 6l6 5l6 5l6 3l7 1l6 1l4 0l7-2l5-3l3-3l2-3l1-4l-1-7l-2-5l-3-2l-3-2l-4 0l-4 0l-6 2l-3 3l-1 3l-1 4l1 3l1 3l2 3l0 1l-3 1l-7-1l-6-3l-5-6l-4-6l-2-8l-2-12l-1-11l1-11l3-11l4-10l7-10l6-7l8-6l12-5l7-2l7 0l157 0l7 0l6 2l3 4l2 5l-1 1l-7 0l-8 1l-3 2l-4 5l-2 4l0 6l2 6l4 5l5 3l6 1l4-1l6-2l3-3l2-4l2-7l0-6l1-1l5 4l10 13l7 6l-1 1l-22 12l-19 11l15 18l11 1l7 2l12 6l6 3l7 6l5 5l4 6l5 4l1 0l0-22l0-51l4-4l4-5l2-6l1-7l-2-10l-4-8l-3-5l0-1l24-1l75 1l0 7l0 1l-35 17l-38 21l15 19l13 2l10 4l11 6l10 6l7 6l7 8l6 9l3 8l5 3l1 0l-1-35l0-82l1 0l16 0l-11-12l-106 0l-1 0l-1 0zM534-85l1 44l1 16l-1 2l-1-1l-10-10l-10-9l-14-9l-14-7l-1-1l0-1l5-3l14-8l29-13zM421-110l5 2l4 6l2 5l0 6l-2 4l-5 5l-7 3l-5 0l-7 0l-5-2l-7-4l-10-8l-6-4l-3-7l-3-6l1-1l40 0zM414-19l-11-9l-10-6l-8-4l-1-1l2-2l11-6l21-11l1 1l1 29l1 14l-2 1zM505-4l3-4l0-4l0-3l-3-5l-4-2l-4-1l-4 1l-4 2l-3 5l0 3l1 5l2 3l3 3l5 1l4-1zM282-9l14-2l6-2l9-6l7-7l3-5l2-6l3-12l0-12l-4-13l-2-4l-4-6l-6-5l-6-3l-8 11l-7 6l-9 6l-7 3l-1-2l3-6l1-3l0-4l-2-6l-3-5l-6-3l-7 0l-7 2l-5 4l-2 3l-2 4l0 7l1 4l3 7l4 3l5 4l4 2l8 1l5 1l8-1l7-2l6-3l5-4l13-13l1 0l2 3l3 6l1 7l-1 9l-5 8l-6 7l-9 6l-7 3l-11 1l-10 0l-10-2l-9-4l-8-6l-8-7l-8-11l-6-11l-6-13l-5-19l-6-2l5 24l6 17l8 17l10 13l6 6l7 5l7 4l7 3l8 2l7 1z"><title>নভেম্বর</title></path>
<defs><g id="nums"><path class="" vector-effect="non-scaling-stroke" transform="translate(208.62 169.65) scale(0.2231 0.2200)" d="M87 2l4-2l3-2l1-4l1-3l-1-5l-1-1l-3-3l-3-2l-4 0l-2 1l-1-1l1-19l0-46l0-4l-2-7l-4-6l-6-8l-5-4l-6-4l-6-3l-4-1l-6 1l-7 2l-6 3l-7 5l-6 6l-5 7l-3 6l-1 5l0 6l2 6l5 7l6 7l6 4l8 5l7 2l8 1l7 0l10-2l0 32l1 9l3 6l4 4l6 2zM67-68l-15 4l-10 1l-7-2l-7-3l-1-1l-2-4l-1-7l2-7l5-7l8-7l10-5l3-1l4 0l5 3l4 4l1 7zM176 2l14-6l8-5l8-6l5-7l4-7l1-9l0-8l-2-9l-3-7l-4-6l-5-5l-6-4l-13-8l-26-12l-9-6l-1-1l2-5l0-3l-2-5l-3-2l-5-2l-4 0l-4 1l-5 3l-2 6l0 7l2 4l3 4l6 5l8 4l38 15l9 4l6 4l6 5l2 4l2 7l0 5l-3 8l-3 5l-4 4l-6 3l-1 0l0-11l-2-7l-3-7l-6-6l-8-5l-8-3l-11-1l-9 1l-9 4l-5 3l-5 5l-3 6l-2 4l-1 8l0 8l2 7l1 4l4 5l5 5l6 3l7 2l7 0l6-1l6-3l4-5l2-6l0-4l-1-4l-4-5l-5-3l-4-1l-6 1l-5 4l-2 3l0 5l0 4l4 5l0 1l-6-2l-4-5l-3-7l0-6l1-5l2-5l5-5l3-2l4-2l6-1l6-1l6 2l6 2l3 3l4 4l2 4l1 8l0 7l-2 9l-3 10z"><title>৭৯</title></path>
<path class="" vector-effect="non-scaling-stroke" transform="translate(201.35 221.96) scale(0.2306 0.2200)" d="M56 2l5-2l4-2l11-7l8-10l7-11l3-8l0-4l0-4l-3-4l-3-3l-7-4l1-1l2-1l4 0l17 1l7-2l3-3l2-4l2-13l-6-3l-2 6l-2 2l-1 1l-5 1l-13-1l-6 2l-4 4l-3 7l-4-5l-4-3l-3-2l-6-2l-5 0l-5 0l-13 4l0-31l-1-10l-3-6l-4-3l-6-2l-6 0l-4 1l-3 3l-1 3l-1 4l1 4l1 2l3 3l3 1l4 0l2 0l1 0l-1 15l0 57l1 6l1 4l4 6l5 5l4 4l6 3l4 2l4 0zM41-54l13-4l10 0l6 1l4 2l2 3l1 4l0 4l-1 6l-2 4l-4 6l-5 5l-8 5l-5 4l-6 1l-3 0l-3-1l-2-3l0-3l-1-33zM203-7l7-1l4-2l7-2l4-3l4-3l5-6l2-4l4-7l2-8l1-8l-1-14l-1-6l-2-8l-3-7l-5-7l-7-7l-8-5l-9-3l-7-1l-11 0l-9 3l-7 6l-4 6l-2 4l-1 5l0 5l2 6l3 6l3 3l3 2l4 2l7 1l6-1l6-3l4-6l3-6l-1-7l-2-6l-4-5l5-1l5 1l4 1l4 2l6 6l3 4l3 6l2 9l0 9l-2 7l-5 9l-6 7l-7 4l-7 3l-10 0l-10-2l-8-3l-7-4l-9-9l-9-11l-6-10l-8-18l-5-15l-6-2l-2 0l7 24l6 16l9 17l9 14l10 10l11 7l6 3l8 2z"><title>৮৩</title></path>
<path class="" vector-effect="non-scaling-stroke" transform="translate(214.15 274.27) scale(0.2183 0.2200)" d="M87 2l4-2l3-2l1-4l1-3l-1-5l-1-1l-3-3l-3-2l-4 0l-2 1l-1-1l1-19l0-46l0-4l-2-7l-4-6l-6-8l-5-4l-6-4l-6-3l-4-1l-6 1l-7 2l-6 3l-7 5l-6 6l-5 7l-3 6l-1 5l0 6l2 6l5 7l6 7l6 4l8 5l7 2l8 1l7 0l10-2l0 32l1 9l3 6l4 4l6 2zM67-68l-15 4l-10 1l-7-2l-7-3l-1-1l-2-4l-1-7l2-7l5-7l8-7l10-5l3-1l4 0l5 3l4 4l1 7zM164-29l9-3l6-4l3-3l4-6l3-6l0-7l0-5l-2-7l-4-6l-6-6l-8-5l-14-9l-7-5l2-6l0-3l0-4l-3-4l-3-2l-4-1l-4 0l-4 1l-5 3l-2 6l0 7l2 4l2 4l4 4l8 5l24 11l8 5l5 4l1 5l-1 6l-5 5l-6 3l-8 2l-11 1l-11-1l-11-2l-12-4l-1 1l14 24l22 7l20 8l19 11l24 17l1 0l-3-9l-4-5l-18-15l-24-16z"><title>৭২</title></path>
<path class="" vector-effect="non-scaling-stroke" transform="translate(206.92 326.58) scale(0.2166 0.2200)" d="M83 2l10-1l9-4l8-5l6-7l5-9l3-11l0-13l-2-9l-3-9l-4-6l-4-5l-8-6l-1 0l-9 11l-8 9l-8 5l-3 1l-2 0l-1-1l-1-4l0-38l-2-10l-3-6l-4-3l-6-2l-6 0l-5 2l-2 3l-1 4l0 4l1 4l3 3l4 1l3 0l3 0l-1 11l1 24l1 6l3 5l4 5l6 6l6 2l4 1l6-2l9-6l7-7l7-8l4 4l2 9l-1 8l-3 8l-5 6l-6 5l-6 3l-6 2l-10 1l-8 0l-7-2l-7-4l-7-5l-6-7l-8-13l-7-16l-4-14l-4-15l-6-1l-2 0l3 15l3 15l5 16l6 14l7 11l7 9l10 8l8 4l12 3zM201 2l13-3l8-4l6-4l3-3l5-9l1-6l0-5l-1-5l-2-6l-5-5l-6-5l-13-8l10-7l6-4l3-4l2-4l2-5l0-4l0-5l-3-7l-4-6l-5-5l-6-4l-7-3l-9-2l-7-1l-9 1l-9 3l-9 5l-5 5l-4 8l-2 4l0 7l2 6l2 4l2 3l5 5l12 7l-13 8l-6 5l-3 4l-2 4l-2 4l0 5l0 7l2 6l3 6l5 5l6 5l7 3l9 3l10 1zM186-69l-9-6l-3-4l-1-4l-1-5l0-3l2-4l3-6l5-4l3-3l5-1l4-2l5 0l5 0l5 2l3 2l5 5l1 4l0 6l-3 5l-5 5l-8 6zM200-56l9 5l3 3l5 7l1 6l-1 5l-1 4l-3 4l-4 5l-5 4l-6 3l-5 1l-6 1l-5-1l-5-1l-6-4l-3-3l-1-6l0-7l3-6l6-6l8-5z"><title>৬৪</title></path>
<path class="" vector-effect="non-scaling-stroke" transform="translate(210.05 378.89) scale(0.2191 0.2200)" d="M56 2l5-2l4-2l11-7l8-10l7-11l3-8l0-4l0-4l-3-4l-3-3l-7-4l1-1l2-1l4 0l17 1l7-2l3-3l2-4l2-13l-6-3l-2 6l-2 2l-1 1l-5 1l-13-1l-6 2l-4 4l-3 7l-4-5l-4-3l-3-2l-6-2l-5 0l-5 0l-13 4l0-31l-1-10l-3-6l-4-3l-6-2l-6 0l-4 1l-3 3l-1 3l-1 4l1 4l1 2l3 3l3 1l4 0l2 0l1 0l-1 15l0 57l1 6l1 4l4 6l5 5l4 4l6 3l4 2l4 0zM41-54l13-4l10 0l6 1l4 2l2 3l1 4l0 4l-1 6l-2 4l-4 6l-5 5l-8 5l-5 4l-6 1l-3 0l-3-1l-2-3l0-3l-1-33zM184 2l13-3l8-4l6-4l3-3l5-9l1-6l0-5l-1-5l-2-6l-5-5l-6-5l-13-8l10-7l6-4l3-4l2-4l2-5l0-4l0-5l-3-7l-4-6l-5-5l-6-4l-7-3l-9-2l-7-1l-9 1l-9 3l-9 5l-5 5l-5 8l-1 4l0 7l2 6l2 4l2 3l5 5l12 7l-13 8l-6 5l-3 4l-2 4l-2 4l0 5l0 7l2 6l3 6l5 5l6 5l7 3l9 3l10 1zM169-69l-9-6l-3-4l-1-4l-1-5l0-3l2-4l3-6l5-4l3-3l5-1l4-2l5 0l5 0l5 2l4 2l4 5l1 4l0 6l-3 5l-5 5l-8 6zM183-56l9 5l3 3l5 7l1 6l-1 5l-1 4l-3 4l-4 5l-5 4l-6 3l-5 1l-6 1l-5-1l-5-1l-6-4l-3-3l-1-6l0-7l3-6l6-6l7-5z"><title>৮৪</title></path>
<path class="" vector-effect="non-scaling-stroke" transform="translate(201.96 431.20) scale(0.2293 0.2200)" d="M77 2l9-2l8-5l7-7l7-10l-1-1l-8-1l-7-2l-8-3l-4-6l-1-4l0-5l0-4l2-4l5-8l10-9l13-9l2-2l1-4l-2-4l-3-4l-6 0l-7 1l-6 0l-7-1l-5-4l-3-3l-1-4l0-4l3-5l0-3l-2-4l-3-2l-3-1l-4 1l-6 3l-9 6l-9 8l-9 11l-6 11l-4 11l-2 10l-1 13l3 12l3 8l7 10l6 7l9 6l12 5l9 2zM83-17l-6 4l-8 3l-8 1l-9-2l-6-3l-5-5l-4-6l-3-8l-2-9l1-9l1-9l3-9l4-9l6-8l7-8l9-7l1 5l2 4l5 4l7 4l10 1l-11 8l-6 8l-6 9l-2 9l1 10l2 6l4 5l4 3l7 4l5 1zM204-7l7-1l4-2l7-2l4-3l4-3l5-6l2-4l4-7l2-8l1-8l-1-14l-1-6l-2-8l-3-7l-5-7l-7-7l-8-5l-9-3l-7-1l-11 0l-9 3l-7 6l-4 6l-2 4l-1 5l0 5l2 6l3 6l3 3l3 2l4 2l7 1l6-1l6-3l4-6l3-6l-1-7l-2-6l-4-5l5-1l5 1l4 1l4 2l6 6l3 4l3 6l2 9l0 9l-2 7l-5 9l-6 7l-7 4l-7 3l-10 0l-10-2l-8-3l-7-4l-9-9l-9-11l-6-10l-8-18l-5-15l-6-2l-2 0l7 24l6 16l9 17l9 14l10 10l11 7l6 3l8 2z"><title>৫৩</title></path>
<path class="" vector-effect="non-scaling-stroke" transform="translate(204.56 483.51) scale(0.2127 0.2200)" d="M83 2l10-1l9-4l8-5l6-7l5-9l3-11l0-13l-2-9l-3-9l-4-6l-4-5l-8-6l-1 0l-9 11l-8 9l-8 5l-3 1l-2 0l-1-1l-1-4l0-38l-2-10l-3-6l-4-3l-6-2l-6 0l-5 2l-2 3l-1 4l0 4l1 4l3 3l4 1l3 0l3 0l-1 11l1 24l1 6l3 5l4 5l6 6l6 2l4 1l6-2l9-6l7-7l7-8l4 4l2 9l-1 8l-3 8l-5 6l-6 5l-6 3l-6 2l-10 1l-8 0l-7-2l-7-4l-7-5l-6-7l-8-13l-7-16l-4-14l-4-15l-6-1l-2 0l3 15l3 15l5 16l6 14l7 11l7 9l10 8l8 4l12 3zM193 2l5-2l4-2l11-7l8-10l7-11l3-8l0-4l0-4l-3-4l-3-3l-7-4l1-1l2-1l4 0l17 1l7-2l3-3l2-4l2-13l-6-3l-2 6l-2 2l-1 1l-5 1l-13-1l-6 2l-4 4l-3 7l-4-5l-4-3l-3-2l-6-2l-5 0l-5 0l-13 4l0-31l-1-10l-3-6l-4-3l-6-2l-6 0l-4 1l-3 3l-1 3l-1 4l1 4l1 2l3 3l3 1l4 0l2 0l1 0l-1 15l0 57l1 6l2 4l3 6l5 5l4 4l6 3l4 2l4 0zM178-54l13-4l10 0l6 1l4 2l2 3l1 4l0 4l-1 6l-2 4l-4 6l-5 5l-8 5l-5 4l-6 1l-3 0l-3-1l-2-3l0-3l-1-33z"><title>৬৮</title></path>
<path class="" vector-effect="non-scaling-stroke" transform="translate(206.93 535.82) scale(0.2158 0.2200)" d="M83 2l10-1l9-4l8-5l6-7l5-9l3-11l0-13l-2-9l-3-9l-4-6l-4-5l-8-6l-1 0l-9 11l-8 9l-8 5l-3 1l-2 0l-1-1l-1-4l0-38l-2-10l-3-6l-4-3l-6-2l-6 0l-5 2l-2 3l-1 4l0 4l1 4l3 3l4 1l3 0l3 0l-1 11l1 24l1 6l3 5l4 5l6 6l6 2l4 1l6-2l9-6l7-7l7-8l4 4l2 9l-1 8l-3 8l-5 6l-6 5l-6 3l-6 2l-10 1l-8 0l-7-2l-7-4l-7-5l-6-7l-8-13l-7-16l-4-14l-4-15l-6-1l-2 0l3 15l3 15l5 16l6 14l7 11l7 9l10 8l8 4l12 3zM200-29l9-3l6-4l3-3l4-6l3-6l0-7l0-5l-2-7l-4-6l-6-6l-8-5l-14-9l-7-5l2-6l0-3l0-4l-3-4l-3-2l-4-1l-4 0l-4 1l-5 3l-2 6l0 7l2 4l2 4l4 4l8 5l24 11l8 5l5 4l1 5l-1 6l-5 5l-6 3l-8 2l-11 1l-11-1l-11-2l-12-4l-1 1l14 24l22 7l20 8l19 11l24 17l1 0l-3-9l-4-5l-18-15l-24-16z"><title>৬২</title></path>
<path class="" vector-effect="non-scaling-stroke" transform="translate(203.31 588.13) scale(0.2354 0.2200)" d="M80 2l-12-1l-8-3l-6-3l-10-7l-9-11l-9-15l-5-14l-6-22l-4-20l2 0l6 1l6 22l4 13l5 10l5 9l9 11l7 5l7 4l11 2l9 0l9-2l8-4l8-7l5-8l2-8l-1-9l-2-5l-3-3l-7 8l-7 7l-9 6l-6 2l-3 0l-3-1l-5-4l-5-4l-5-6l-3-8l-1-24l1-13l-3 0l-3 0l-4-1l-3-3l-1-4l0-4l1-4l2-3l5-2l6 0l6 2l4 3l3 6l2 10l0 38l1 4l1 1l2 0l3-1l8-5l8-9l9-11l1 0l8 6l4 5l5 8l3 9l1 9l-1 13l-3 11l-5 9l-7 6l-8 5l-10 3z"><title>৬</title></path>
<path fill-rule="evenodd" transform="translate(247.40 575.53) rotate(14)" d="M-10.4 0a10.4 11.9 0 1 0 20.8 0a10.4 11.9 0 1 0-20.8 0zM-6.0 0a6.0 9.4 0 1 1 12.0 0a6.0 9.4 0 1 1-12.0 0z"><title>০</title></path>
<path class="" vector-effect="non-scaling-stroke" transform="translate(206.97 640.44) scale(0.2168 0.2200)" d="M77 2l9-2l8-5l7-7l7-10l-1-1l-8-1l-7-2l-8-3l-4-6l-1-4l0-5l0-4l2-4l5-8l10-9l13-9l2-2l1-4l-2-4l-3-4l-6 0l-7 1l-6 0l-7-1l-5-4l-3-3l-1-4l0-4l3-5l0-3l-2-4l-3-2l-3-1l-4 1l-6 3l-9 6l-9 8l-9 11l-6 11l-4 11l-2 10l-1 13l3 12l3 8l7 10l6 7l9 6l12 5l9 2zM83-17l-6 4l-8 3l-8 1l-9-2l-6-3l-5-5l-4-6l-3-8l-2-9l1-9l1-9l3-9l4-9l6-8l7-8l9-7l1 5l2 4l5 4l7 4l10 1l-11 8l-6 8l-6 9l-2 9l1 10l2 6l4 5l4 3l7 4l5 1zM177 2l5-2l4-2l11-7l8-10l7-11l3-8l0-4l0-4l-3-4l-3-3l-7-4l1-1l2-1l4 0l17 1l7-2l3-3l2-4l2-13l-6-3l-2 6l-2 2l-1 1l-5 1l-13-1l-6 2l-4 4l-3 7l-4-5l-4-3l-3-2l-6-2l-5 0l-5 0l-13 4l0-31l-1-10l-3-6l-4-3l-6-2l-6 0l-4 1l-3 3l-1 3l-1 4l1 4l1 2l3 3l3 1l4 0l2 0l1 0l-1 15l0 57l1 6l2 4l3 6l5 5l4 4l6 3l4 2l4 0zM162-54l13-4l10 0l6 1l4 2l2 3l1 4l0 4l-1 6l-2 4l-4 6l-5 5l-8 5l-5 4l-6 1l-3 0l-3-1l-2-3l0-3l-1-33z"><title>৫৮</title></path>
<path class="" vector-effect="non-scaling-stroke" transform="translate(209.72 692.75) scale(0.2196 0.2200)" d="M77 2l9-2l8-5l7-7l7-10l-1-1l-8-1l-7-2l-8-3l-4-6l-1-4l0-5l0-4l2-4l5-8l10-9l13-9l2-2l1-4l-2-4l-3-4l-6 0l-7 1l-6 0l-7-1l-5-4l-3-3l-1-4l0-4l3-5l0-3l-2-4l-3-2l-3-1l-4 1l-6 3l-9 6l-9 8l-9 11l-6 11l-4 11l-2 10l-1 13l3 12l3 8l7 10l6 7l9 6l12 5l9 2zM83-17l-6 4l-8 3l-8 1l-9-2l-6-3l-5-5l-4-6l-3-8l-2-9l1-9l1-9l3-9l4-9l6-8l7-8l9-7l1 5l2 4l5 4l7 4l10 1l-11 8l-6 8l-6 9l-2 9l1 10l2 6l4 5l4 3l7 4l5 1zM185 2l13-3l8-4l6-4l3-3l5-9l1-6l0-5l-1-5l-2-6l-5-5l-6-5l-13-8l10-7l6-4l3-4l2-4l2-5l0-4l0-5l-3-7l-4-6l-5-5l-6-4l-7-3l-9-2l-7-1l-9 1l-9 3l-9 5l-5 5l-4 8l-2 4l0 7l2 6l2 4l2 3l5 5l12 7l-13 8l-6 5l-3 4l-2 4l-2 4l0 5l0 7l2 6l3 6l5 5l6 5l7 3l9 3l10 1zM170-69l-9-6l-3-4l-1-4l-1-5l0-3l2-4l3-6l5-4l3-3l5-1l4-2l5 0l5 0l5 2l3 2l5 5l1 4l0 6l-3 5l-5 5l-8 6zM184-56l9 5l3 3l5 7l1 6l-1 5l-1 4l-3 4l-4 5l-5 4l-6 3l-5 1l-6 1l-5-1l-5-1l-6-4l-3-3l-1-6l0-7l3-6l6-6l8-5z"><title>৫৪</title></path></g></defs>
<use href="#nums" class="h" filter="url(#bl)"/>
<use href="#nums" class="n"/>
<path class="s" transform="translate(588.95 703.66) rotate(-90) scale(0.1342 0.1342)" d="M1667-8l9-3l6-4l7-6l4-7l4-8l1-7l0-10l-1-9l-3-9l-4-8l-5-5l-8-6l-10 13l-10 9l-7 4l-4 1l-2 0l-1-2l-1-4l0-41l1-1l103 0l1 2l-8 6l-7 10l-7 14l-3 9l-1 9l0 9l1 10l2 9l3 9l5 9l6 8l7 7l7 3l7 2l8 1l4 0l7-2l5-3l3-3l2-3l1-4l0-7l-2-3l-2-3l-5-3l-6-1l-5 1l-5 3l-2 3l-1 4l0 5l4 6l0 1l-3 1l-5-1l-6-2l-7-7l-5-9l-3-12l0-16l2-17l2-8l5-9l5-8l5-5l8-6l6-4l9-3l12-2l76 0l1 31l-2 0l-6-9l-6-6l-9-4l-7 0l-7 2l-3 3l-3 3l-2 6l1 9l3 4l5 4l6 1l6-2l4-4l2-3l0-3l0-4l-4-5l0-1l0-1l5 1l4 2l5 5l10 18l5 6l7 6l7 3l4 0l3-2l7-4l8-7l7-9l1 0l4 8l1 4l0 8l-3 9l-3 4l-5 5l-10 7l-10 3l-15 0l-12-1l-9-3l-10-5l-7-5l-8-8l-7-10l-8-12l-7-16l-5-16l-6-2l5 24l6 17l8 14l10 15l12 11l12 7l16 6l16 1l8 0l12-3l6-2l9-6l5-6l5-9l3-11l0-8l0-10l-4-12l-5-8l-10-8l-8 11l-10 9l-8 5l-3 0l-2-1l-1-5l1-41l64-1l4 5l12 0l8 2l3 2l3 5l-12 7l-6 6l-4 5l-2 8l1 6l3 5l7 5l5 1l6-1l7-5l4-4l4-8l1 1l3 5l4 5l6 5l5 2l4 0l6-2l3-3l3-3l2-5l0-4l-2-6l-2-4l-4-5l-14-10l4-6l4-3l3-2l4 0l7 4l6 5l4 6l4 9l1 7l1 8l0 67l13 10l1 0l-1-119l19-1l81 1l1 1l0 41l2 26l-2 0l-8-16l-4-6l-5-5l-10-7l-7-2l-6-2l-7 0l-8 1l-4 2l-6 3l-5 6l-2 4l-2 7l0 7l3 7l6 7l8 3l10 0l4-1l6-4l2-4l3-6l0-4l-2-5l-2-5l-5-4l0-1l8 1l9 4l8 7l9 12l5 9l4 11l7 27l5 3l2 0l-1-38l0-78l0-1l17 0l0-1l-12-11l-134 0l1 16l1 12l-1 1l-10-13l-7-8l-8-6l-5-2l-5 0l-8 5l-7 7l-8 11l-2 1l-7-12l-6-6l-7-4l-8-2l-264 0l-3-12l-3-7l-5-6l-7-4l-8-3l-10-1l-42 2l-11-1l-6-1l-4-2l-3-4l-1-5l3-8l-4-3l-1 0l-1 1l-3 5l-1 6l0 5l2 5l2 4l5 4l3 3l11 4l12 1l15 0l28-2l13 1l5 3l4 4l1 3l-2 6l-1 2l-113 0l-4-2l-2-2l-1-6l0-7l-9-6l0 32l1 13l-1 1l-5-10l-5-7l-6-4l-8-2l-153 0l17 17l12 1l8 3l10 6l10 9l0 1l-36 25l14 18l13 2l9 3l8 4l10 6l12 11l7 9l5 11l5 3l2 0l-1-89l3-1l8 0l12 2l8 4l4 5l1 7l-1 3l-3 3l-6-4l-5-2l-6 2l-2 2l-2 3l-1 3l0 3l2 6l4 3l5 2l6 0l4-2l5-4l4-5l2-7l0-8l-1-6l-2-7l-5-7l-4-3l-5-3l-6-3l-15-2l-18 1l0 54l2 20l-2 1l-12-12l-9-7l-12-7l-14-6l0-2l6-4l25-17l-14-16l-17-15l1-2l108 0l8 1l5 3l3 3l3 6l2 7l2 10l0 79l13 10l1 0l-3-124l2 0l4 3l4 2l58 0l1 39l2 6l5 8l5 5l6 3l4 2l5-1l6-2l7-5l15-16l5 6l2 8l0 6l-3 9l-4 6l-7 6l-6 3l-9 3l-10 1l-8 0l-8-3l-7-3l-10-8l-9-12l-5-10l-5-11l-7-28l-7-2l5 25l6 20l6 14l7 11l7 9l8 7l8 4l12 4l13 1zM898 4l7-4l3-5l1-4l0-5l-1-4l-2-3l-3-2l-5-2l-6-1l-4 2l-5 4l-2 5l0 5l4 6l0 1l-6 1l-6-2l-7-6l-6-10l-3-11l-2-16l1-13l2-9l4-10l5-9l6-7l8-6l8-5l9-3l14-2l6 5l10 2l9 3l10 6l5 5l2 3l1 5l0 6l-2 12l-13 15l-5 4l-5-1l-4-3l-4-8l-7 5l5 8l4 5l5 5l5 2l8 2l6-2l5-4l19-23l8-7l4-1l3 0l4 1l4 3l5 7l1 7l0 47l13 10l1 0l-1-119l19 0l6 5l9 1l9 2l10 6l12 10l0 1l-36 25l14 18l13 2l9 3l11 6l10 6l8 7l5 6l4 7l4 9l5 3l2 0l-1-89l3-1l8 0l12 2l8 4l4 5l1 7l-1 3l-3 3l-6-4l-5-2l-6 2l-2 2l-2 3l-1 3l0 3l2 6l4 3l5 2l6 0l4-2l5-4l4-5l2-7l0-8l-1-6l-2-7l-5-7l-4-3l-5-3l-6-3l-15-2l-18 1l0 54l2 20l-2 1l-12-12l-9-7l-12-7l-14-6l0-2l6-4l25-17l-14-16l-17-15l0-2l132 0l0 109l13 10l1 0l-1-119l34 0l0 73l1 6l4 10l7 9l8 6l6 2l8-2l10-6l8-8l9-10l7-10l4-10l2-9l0-9l-1-5l-3-6l-4-5l-4-2l-6-2l-4-1l-5 1l-6 3l-3 3l-2 5l-1 4l1 5l3 5l5 4l6 1l6-1l-1 7l-3 6l-3 6l-6 7l-6 5l-5 4l-6 3l-5 2l-4-2l-2-3l-1-8l0-78l71 0l0-1l-12-11l-5-1l-2-10l-4-8l-8-10l-11-9l-12-7l-16-7l-13-3l-12-2l-16 2l-12 3l-10 7l-8 8l-4 9l0 9l2 5l10 13l0 1l-297 0l-14 2l-9 3l-10 6l-9 8l-7 10l-6 12l-3 10l-1 11l0 13l2 12l4 12l6 11l8 9l9 6l9 3l10 1zM1222-158l3 6l5 5l6 4l7 2l14 1l29-2l10 2l4 1l4 4l1 4l-1 4l-3 4l-94 0l-4-6l-3-7l0-6l2-7l6-8l8-5l5-2zM1280-156l-29 2l-12-1l-7-3l-3-4l-1-4l2-1l8 0l15 1l16 3l12 6zM1001-111l1 37l1 9l-1 1l-1-1l-4-6l-5-6l-6-4l-4-2l-4 0l-6 1l-11 8l-1-1l2-12l-2-8l-3-8l-7-6l0-2zM481-123l-12 1l-8 3l-11 6l-7 6l-8 9l-5 9l-5 12l-2 10l-1 14l1 12l3 12l6 12l5 8l7 7l9 5l9 3l8 0l7-1l5-3l4-2l2-3l2-4l0-7l-1-4l-3-4l-5-3l-6-1l-5 1l-5 3l-2 3l-1 4l0 5l4 6l0 1l-3 1l-5-1l-4-1l-4-3l-3-3l-4-5l-4-12l-2-14l0-16l1-9l3-8l7-14l6-7l6-5l6-4l9-4l9-2l7-1l77 0l0 8l-35 17l-38 21l15 19l13 3l10 3l11 6l10 7l7 5l7 9l5 8l4 8l5 3l1 0l-1-35l0-82l1 0l15 0l5 1l4 2l4 4l3 6l3 14l1 13l0 69l13 10l1 0l-3-124l2 0l4 3l4 2l58 0l1 37l1 6l3 6l4 6l6 4l6 3l4 1l3-1l8-4l10-8l9-10l4 3l4 8l0 8l-3 9l-7 9l-10 7l-9 3l-10 1l-12-2l-7-3l-7-4l-7-6l-6-8l-6-9l-5-10l-4-13l-6-21l-6-2l5 25l5 17l5 14l9 14l9 11l10 7l11 5l13 2l10-1l10-2l8-4l8-6l5-9l3-8l2-9l0-10l-2-12l-4-8l-6-7l-9-8l-11 13l-9 9l-6 4l-3 1l-4 0l-1-1l-1-5l0-42l68 0l-11-12l-134 0l-4-2l-2-2l-1-6l0-7l-8-6l-1 30l1 15l-1 1l-1 0l-4-10l-5-7l-5-3l-7-3l-9 0zM568-84l1 46l1 13l-1 2l-11-12l-9-8l-15-9l-14-7l-1-1l19-12l29-13zM541-6l1-4l0-5l-2-3l-4-4l-3-1l-6 0l-3 2l-3 4l-2 4l1 5l3 5l3 2l3 1l6-1l3-1zM324-71l5 3l4 1l6-1l5-4l3-5l1-4l-2-7l-4-5l-5-2l-4 0l-4 0l-5 4l-4 5l0 5l0 4zM325-1l4 2l7 1l5-2l4-4l2-4l1-7l-3-5l-4-5l-5-1l-5 0l-4 1l-5 4l-2 4l0 7l1 4zM238-123l-247 0l17 17l14 3l7 3l6 3l7 7l3 6l0 9l-2 11l-15 17l-3 2l-5-1l-4-3l-4-8l-7 5l8 11l8 8l9 3l3 0l5-2l5-4l19-23l6-6l4-2l4 0l5 1l4 3l4 6l1 3l1 7l0 45l7 5l1 4l-1 0l-10-2l-6 0l-6 2l-5 4l-3 5l-1 5l1 4l3 6l7 5l6 3l5 0l13-1l11-4l13 7l15 9l-2-9l-15-9l-17-8l-10 4l-11 2l-5-1l-4-1l-3-2l0-2l0-3l1-2l3-3l3-1l11-2l14 2l-1-9l-1-117l146 0l0-1zM91-111l1 37l1 9l-1 1l-1-1l-4-6l-5-6l-6-4l-4-2l-4 0l-6 1l-11 8l-1-1l2-12l-2-8l-3-8l-7-6l0-2zM233 12l0-98l-1-3l-2-4l-6-6l-8-4l-9-1l-7 1l-9 4l-11 7l-8 8l-6 10l-2 10l0 7l2 4l2 4l5 4l5 3l5 0l7 0l6-2l4-4l2-4l0-6l-1-4l-2-3l-6-3l-4 0l-6 1l-1-1l1-2l2-4l5-5l9-8l12-5l4 0l2 1l2 5l-1 43l1 17l2 14l-1 0l-11-8l-10-4l-10-2l-31 0l-8-1l-4-2l-6-6l-2-6l-1-5l0-6l1-6l2-7l-3-2l-2 0l-3 6l-2 7l-1 8l0 8l3 11l3 4l6 6l10 5l9 2l10 0l29-2l8 1l6 1l3 2l4 3l3 5l4 9l5 3z"><title>সূত্র : রোড সেফটি ফাউন্ডেশন</title></path>
</svg></div></body></html>
